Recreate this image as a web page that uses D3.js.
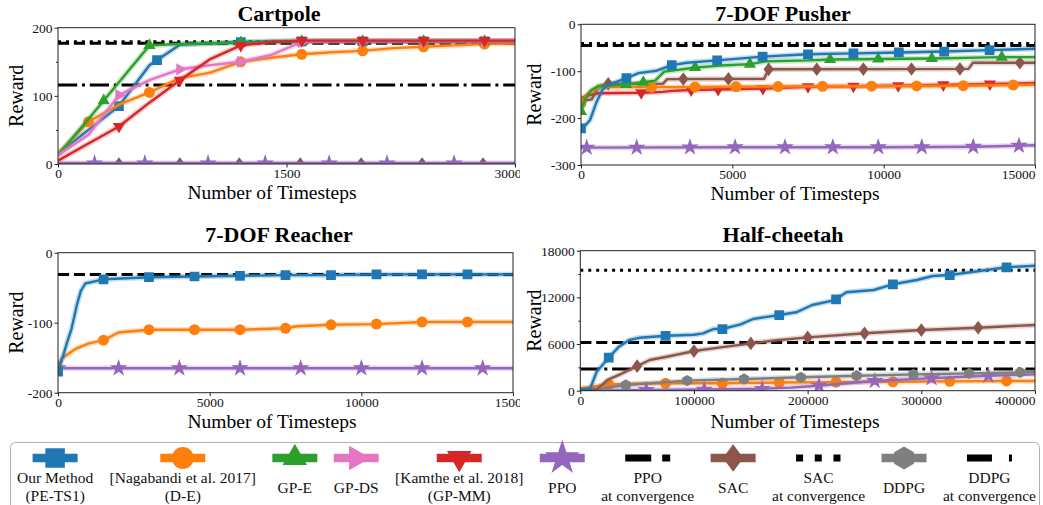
<!DOCTYPE html>
<html lang="en">
  <head>
    <title>Reward curves</title>
    <meta charset="UTF-8">
    <script src="https://d3js.org/d3.v7.min.js"></script>
    <style>
      * {
        margin: 0;
        padding: 0;
      }
      body {
        background: white;
      }
      svg {
        display: block;
        font-family: 'Liberation Serif', 'Times New Roman', serif;
      }
    </style>
  </head>
  <body>
    <script>
      // ---------- data ----------
      // Cartpole (all curves share one timestep grid)
      const cartpoleT    = [0, 200, 400, 600, 800, 1000, 1200, 1400, 1600, 1800, 2000, 2200, 2400, 2600, 2800, 3000]
      const cartpolePETS = [15, 50, 85, 145, 175, 177, 179, 180, 180, 180, 180, 180, 180, 180, 180, 180]
      const cartpoleDE   = [15, 62, 87, 105, 126, 134, 150, 156, 161, 164, 166, 170, 172, 174, 176, 177]
      const cartpoleGPE  = [13, 66, 120, 174, 176, 177, 178, 179, 180, 180, 180, 180, 180, 180, 180, 180]
      const cartpoleGPDS = [13, 43, 101, 123, 139, 145, 150, 160, 179, 180, 180, 180, 180, 180, 180, 180]
      const cartpoleGPMM = [5, 30, 55, 90, 123, 154, 174, 179, 181, 181, 181, 181, 181, 181, 181, 181]
      const cartpolePPO  = [1, 1, 1, 1, 1, 1, 1, 1, 1, 1, 1, 1, 1, 1, 1, 1]
      const cartpoleSAC  = [0, 0, 0, 0, 0, 0, 0, 0, 0, 0, 0, 0, 0, 0, 0, 0]
      const cartpoleConv = [177, 179.5, 116]   // PPO, SAC, DDPG at convergence

      // 7-DOF Pusher
      const pusherPETSt  = [0, 150, 300, 500, 700, 900, 1500, 1900, 2500, 3000, 3500, 4500, 6000, 7500, 9000, 10500, 12000, 13500, 15000]
      const pusherPETS   = [-222, -215, -204, -168, -140, -129, -115, -104, -99, -87, -82, -77, -69, -64, -62, -60, -58, -55, -52]
      const pusherDEt    = [0, 230, 450, 670, 2300, 5000, 9500, 12600, 15000]
      const pusherDE     = [-168, -147, -140, -134, -134, -133, -132, -131, -129]
      const pusherGPEt   = [0, 120, 340, 560, 1500, 2000, 2450, 2750, 3800, 4600, 5600, 6100, 7500, 8200, 9800, 11600, 13900, 15000]
      const pusherGPE    = [-186, -161, -140, -132, -128, -124, -120, -101, -92, -88, -85, -79, -77, -75, -74, -73, -70, -70]
      const pusherGPMMt  = [0, 200, 560, 2000, 2700, 3000, 3600, 6000, 7500, 10500, 13700, 15000]
      const pusherGPMM   = [-158, -152, -147, -146, -144, -142, -140, -137, -133, -131, -127, -125]
      const pusherPPOt   = [0, 5000, 10000, 13000, 15000]
      const pusherPPO    = [-263, -262, -262, -261, -258]
      const pusherSACt   = [0, 150, 350, 600, 900, 2700, 2850, 6050, 6200, 12800, 12950, 15000]
      const pusherSAC    = [-170, -162, -160, -132, -127, -127, -117, -116, -96, -95, -82, -82]
      const pusherConv   = [-45, -41]   // PPO, SAC at convergence

      // 7-DOF Reacher
      const reacherPETSt = [0, 150, 300, 450, 620, 750, 900, 1500, 3000, 4500, 6000, 7500, 9000, 10500, 12000, 13500, 15000]
      const reacherPETS  = [-170, -150, -128, -108, -75, -55, -44, -38, -35, -34, -33, -32, -32, -31, -31, -31, -31]
      const reacherDEt   = [0, 120, 600, 1000, 1500, 2000, 3000, 4500, 6000, 7500, 7900, 9000, 10500, 12000, 13500, 15000]
      const reacherDE    = [-165, -151, -137, -130, -125, -114, -110, -110, -110, -108, -105, -103, -102, -99, -99, -99]
      const reacherPPOt  = [0, 15000]
      const reacherPPO   = [-165, -165]
      const reacherConv  = [-31]   // PPO at convergence

      // Half-cheetah
      const cheetahPETSt = [0, 8500, 14400, 25000, 34000, 43000, 52000, 76000, 100000, 108000, 117000, 125000, 141000, 152000, 175000,
                            190000, 204000, 224000, 234000, 258000, 275000, 296000, 310000, 325000, 351000, 375000, 400000]
      const cheetahPETS  = [200, 200, 2440, 4240, 5660, 6520, 6800, 7070, 7200, 7370, 7930, 7930, 8530, 9220, 9730,
                            10080, 11020, 11650, 12650, 12950, 13680, 14230, 14750, 14870, 15390, 15870, 16070]
      const cheetahDEt   = [0, 10000, 25000, 50000, 75000, 125000, 175000, 225000, 275000, 325000, 375000, 400000]
      const cheetahDE    = [300, 500, 800, 900, 950, 950, 1050, 1100, 1150, 1200, 1250, 1250]
      const cheetahPPOt  = [0, 60000, 110000, 160000, 185000, 209000, 235000, 258000, 305000, 353000, 400000]
      const cheetahPPO   = [0, 100, 150, 250, 400, 640, 950, 1250, 1590, 1890, 2100]
      const cheetahSACt  = [0, 15000, 24000, 35000, 51000, 61000, 76000, 101500, 125000, 150800, 175000, 200600, 250500, 300300, 350100, 400000]
      const cheetahSAC   = [0, 200, 1380, 2110, 3220, 3950, 4370, 5140, 5600, 6090, 6520, 6860, 7380, 7800, 8100, 8450]
      const cheetahDDPGt = [0, 20000, 40000, 93600, 145000, 195000, 245000, 295000, 343000, 389000, 400000]
      const cheetahDDPG  = [0, 300, 730, 1290, 1500, 1720, 1930, 2100, 2230, 2360, 2400]
      const cheetahConv  = [6200, 15500, 2800]   // PPO, SAC, DDPG at convergence

      // timesteps where each curve carries a marker
      const marksCartpole = {
        pets: [400, 650, 1200, 1600, 2000, 2400, 2800],
        de:   [200, 600, 1200, 1600, 2000, 2400, 2800],
        gpe:  [300, 600, 1200, 1600, 2000, 2400, 2800],
        gpds: [400, 800, 1200, 1600, 2000, 2400, 2800],
        gpmm: [400, 800, 1200, 1600, 2000, 2400, 2800],
        ppo:  [240, 570, 985, 1360, 1780, 2160, 2600],
        sac:  [400, 800, 1190, 1590, 1990, 2390, 2790]
      }
      const marksPusher = {
        pets: [0, 1500, 3000, 4500, 6000, 7500, 9000, 10500, 12000, 13500],
        de:   [0, 2330, 3770, 5120, 6510, 7980, 9600, 11090, 12630, 14280],
        gpe:  [0, 1490, 2060, 3770, 5580, 8230, 9820, 11590, 13900],
        gpmm: [1990, 3640, 4530, 6010, 7500, 9000, 10480, 11970, 13510],
        ppo:  [190, 1840, 3600, 5090, 6740, 8320, 9820, 11260, 12960, 14470],
        sac:  [900, 3380, 4870, 6200, 7790, 9330, 10920, 12520, 14500]
      }
      const marksReacher = {
        pets: [0, 1500, 3000, 4500, 6000, 7500, 9000, 10500, 12000, 13500],
        de:   [0, 1500, 3000, 4500, 6000, 7500, 9000, 10500, 12000, 13500],
        ppo:  [0, 2000, 4000, 6000, 8000, 10000, 12000, 14000]
      }
      const marksCheetah = {
        pets: [25000, 75000, 125000, 175000, 225000, 275000, 325000, 375000],
        de:   [25000, 75000, 125000, 175000, 225000, 275000, 325000, 375000],
        ppo:  [58000, 109000, 160000, 210000, 259000, 309000, 359000],
        sac:  [50000, 100000, 150000, 200000, 250000, 300000, 350000],
        ddpg: [40000, 94000, 144000, 194000, 243000, 293000, 342000, 387000]
      }

      const legendLabels = [
        ["Our Method", "(PE-TS1)"], ["[Nagabandi et al. 2017]", "(D-E)"], ["GP-E"], ["GP-DS"],
        ["[Kamthe et al. 2018]", "(GP-MM)"], ["PPO"], ["PPO", "at convergence"], ["SAC"],
        ["SAC", "at convergence"], ["DDPG"], ["DDPG", "at convergence"]
      ]
      const legendKeys = ["pets", "de", "gpe", "gpds", "gpmm", "ppo", "ppoConv", "sac", "sacConv", "ddpg", "ddpgConv"]

      // ---------- styles ----------
      const colors = {
        pets: "#1f77b4", de: "#ff7f0e", gpe: "#2ca02c", gpds: "#e377c2",
        gpmm: "#d62728", ppo: "#9467bd", sac: "#8c564b", ddpg: "#7f7f7f"
      }
      const dashes = { ppoConv: "11.1 4.8", sacConv: "3 4.95", ddpgConv: "19.2 4.8 3 4.8" }
      const legendDashes = { ppoConv: "26 11", sacConv: "7 11.7", ddpgConv: "25 17 7 17" }

      const thinDiamond = {
        draw(ctx, size) {
          const h = Math.sqrt(size / 0.375) / 2, w = h * 0.75
          ctx.moveTo(0, -h); ctx.lineTo(w, 0); ctx.lineTo(0, h); ctx.lineTo(-w, 0); ctx.closePath()
        }
      }
      const hexagon = {
        draw(ctx, size) {
          const r = Math.sqrt(size / 2.598)
          for (let i = 0; i < 6; i++) {
            const a = Math.PI / 3 * i - Math.PI / 2
            if (i === 0) ctx.moveTo(r * Math.cos(a), r * Math.sin(a))
            else ctx.lineTo(r * Math.cos(a), r * Math.sin(a))
          }
          ctx.closePath()
        }
      }
      const symbols = {
        pets: { type: d3.symbolSquare, size: 95, rot: 0 },
        de:   { type: d3.symbolCircle, size: 95, rot: 0 },
        gpe:  { type: d3.symbolTriangle, size: 65, rot: 0 },
        gpds: { type: d3.symbolTriangle, size: 65, rot: 90 },
        gpmm: { type: d3.symbolTriangle, size: 65, rot: 180 },
        ppo:  { type: d3.symbolStar, size: 95, rot: 0 },
        sac:  { type: thinDiamond, size: 70, rot: 0 },
        ddpg: { type: hexagon, size: 85, rot: 0 }
      }

      const W = 1043, H = 505
      const svg = d3.select("body").append("svg").attr("width", W).attr("height", H)

      svg.append("clipPath").attr("id", "leftcol")
         .append("rect").attr("x", 0).attr("y", 0).attr("width", 520).attr("height", H)

      function drawPanel(p) {
        const root = svg.append("g")
        if (p.clip) root.attr("clip-path", "url(#leftcol)")

        const x = d3.scaleLinear().domain(p.xDomain).range([p.left, p.right])
        const y = d3.scaleLinear().domain(p.yDomain).range([p.bottom, p.top])

        const clipId = "plot" + p.id
        root.append("clipPath").attr("id", clipId)
            .append("rect").attr("x", p.left).attr("y", p.top)
            .attr("width", p.right - p.left).attr("height", p.bottom - p.top)
        const plot = root.append("g").attr("clip-path", `url(#${clipId})`)

        // horizontal "at convergence" references
        p.conv.forEach(c => {
          plot.append("line")
              .attr("x1", p.left).attr("x2", p.right)
              .attr("y1", y(c.value)).attr("y2", y(c.value))
              .attr("stroke", "#000").attr("stroke-width", 3)
              .attr("stroke-dasharray", dashes[c.key])
        })

        const line = d3.line().x(d => x(d[0])).y(d => y(d[1]))
        p.series.forEach(s => {
          const pts = s.t.map((t, i) => [t, s.v[i]])
          const col = colors[s.key]
          plot.append("path").datum(pts).attr("d", line)
              .attr("fill", "none").attr("stroke", col).attr("stroke-opacity", 0.25)
              .attr("stroke-width", 5.5).attr("stroke-linejoin", "round")
          plot.append("path").datum(pts).attr("d", line)
              .attr("fill", "none").attr("stroke", col)
              .attr("stroke-width", 2.4).attr("stroke-linejoin", "round")

          const along = d3.scaleLinear().domain(s.t).range(s.v)
          const sym = symbols[s.key]
          plot.append("g").selectAll("path")
              .data(s.marks).join("path")
              .attr("transform", t => `translate(${x(t)},${y(along(t))}) rotate(${sym.rot})`)
              .attr("d", d3.symbol().type(sym.type).size(sym.size))
              .attr("fill", col)
        })

        // frame
        root.append("rect")
            .attr("x", p.left).attr("y", p.top)
            .attr("width", p.right - p.left).attr("height", p.bottom - p.top)
            .attr("fill", "none").attr("stroke", "#222").attr("stroke-width", 1)

        const fmt = d => String(d)
        const xAxis = root.append("g")
            .attr("transform", `translate(0,${p.bottom})`)
            .call(d3.axisBottom(x).tickValues(p.xTicks).tickSize(3.5).tickPadding(1).tickFormat(fmt))
        const yAxis = root.append("g")
            .attr("transform", `translate(${p.left},0)`)
            .call(d3.axisLeft(y).tickValues(p.yTicks).tickSize(3.5).tickPadding(2).tickFormat(fmt))
        if (p.yMinor) {
          root.append("g")
              .attr("transform", `translate(${p.left},0)`)
              .call(d3.axisLeft(y).tickValues(p.yMinor).tickSize(2).tickFormat(""))
              .call(g => g.select(".domain").remove())
              .selectAll("line").attr("stroke", "#222")
        }
        ;[xAxis, yAxis].forEach(a => {
          a.select(".domain").remove()
          a.selectAll("line").attr("stroke", "#222")
          a.selectAll("text").attr("font-size", 13.5).attr("fill", "#111")
           .attr("font-family", "'Liberation Serif', serif")
        })
        // the last x label sits against the right edge of the crop
        xAxis.selectAll(".tick").filter(d => d === p.xDomain[1]).select("text")
             .attr("text-anchor", "end").attr("x", p.lastTickShift)

        root.append("text")
            .attr("x", p.titleX).attr("y", p.titleY)
            .attr("text-anchor", "middle").attr("font-size", 22).attr("font-weight", "bold")
            .text(p.title)
        root.append("text")
            .attr("x", p.xLabelX).attr("y", p.xLabelY)
            .attr("text-anchor", "middle").attr("font-size", 19.5)
            .text("Number of Timesteps")
        root.append("text")
            .attr("transform", `translate(${p.yLabelX},${(p.top + p.bottom) / 2}) rotate(-90)`)
            .attr("text-anchor", "middle").attr("dominant-baseline", "central").attr("font-size", 20)
            .text("Reward")
      }

      const cp = (key, v) => ({ key, t: cartpoleT, v, marks: marksCartpole[key] })

      drawPanel({
        id: "cartpole", clip: true, title: "Cartpole",
        left: 58, right: 515, top: 27.7, bottom: 164,
        xDomain: [0, 3000], yDomain: [0, 200],
        xTicks: [0, 1500, 3000], yTicks: [0, 100, 200], yMinor: [50, 150], lastTickShift: 6,
        titleX: 279, titleY: 20.5, xLabelX: 272, xLabelY: 199, yLabelX: 16,
        conv: [{ key: "ddpgConv", value: cartpoleConv[2] }, { key: "ppoConv", value: cartpoleConv[0] },
               { key: "sacConv", value: cartpoleConv[1] }],
        series: [cp("sac", cartpoleSAC), cp("ppo", cartpolePPO), cp("pets", cartpolePETS), cp("de", cartpoleDE),
                 cp("gpe", cartpoleGPE), cp("gpds", cartpoleGPDS), cp("gpmm", cartpoleGPMM)]
      })

      drawPanel({
        id: "pusher", clip: false, title: "7-DOF Pusher",
        left: 581, right: 1035, top: 24.3, bottom: 165,
        xDomain: [0, 15000], yDomain: [-300, 0],
        xTicks: [0, 5000, 10000, 15000], yTicks: [-300, -200, -100, 0], lastTickShift: 0,
        titleX: 783, titleY: 20.5, xLabelX: 795, xLabelY: 200, yLabelX: 534,
        conv: [{ key: "ppoConv", value: pusherConv[0] }, { key: "sacConv", value: pusherConv[1] }],
        series: [
          { key: "ppo", t: pusherPPOt, v: pusherPPO, marks: marksPusher.ppo },
          { key: "gpmm", t: pusherGPMMt, v: pusherGPMM, marks: marksPusher.gpmm },
          { key: "sac", t: pusherSACt, v: pusherSAC, marks: marksPusher.sac },
          { key: "de", t: pusherDEt, v: pusherDE, marks: marksPusher.de },
          { key: "gpe", t: pusherGPEt, v: pusherGPE, marks: marksPusher.gpe },
          { key: "pets", t: pusherPETSt, v: pusherPETS, marks: marksPusher.pets }
        ]
      })

      drawPanel({
        id: "reacher", clip: true, title: "7-DOF Reacher",
        left: 58, right: 513, top: 252.7, bottom: 392.7,
        xDomain: [0, 15000], yDomain: [-200, 0],
        xTicks: [0, 5000, 10000, 15000], yTicks: [-200, -100, 0], lastTickShift: 15,
        titleX: 279, titleY: 241.5, xLabelX: 272, xLabelY: 428, yLabelX: 16,
        conv: [{ key: "ppoConv", value: reacherConv[0] }],
        series: [
          { key: "ppo", t: reacherPPOt, v: reacherPPO, marks: marksReacher.ppo },
          { key: "de", t: reacherDEt, v: reacherDE, marks: marksReacher.de },
          { key: "pets", t: reacherPETSt, v: reacherPETS, marks: marksReacher.pets }
        ]
      })

      drawPanel({
        id: "cheetah", clip: false, title: "Half-cheetah",
        left: 580.3, right: 1035, top: 250.7, bottom: 390.7,
        xDomain: [0, 400000], yDomain: [0, 18000],
        xTicks: [0, 100000, 200000, 300000, 400000], yTicks: [0, 6000, 12000, 18000], yMinor: [3000, 9000, 15000],
        lastTickShift: 0,
        titleX: 783, titleY: 241.5, xLabelX: 795, xLabelY: 428, yLabelX: 534,
        conv: [{ key: "ddpgConv", value: cheetahConv[2] }, { key: "ppoConv", value: cheetahConv[0] },
               { key: "sacConv", value: cheetahConv[1] }],
        series: [
          { key: "de", t: cheetahDEt, v: cheetahDE, marks: marksCheetah.de },
          { key: "ppo", t: cheetahPPOt, v: cheetahPPO, marks: marksCheetah.ppo },
          { key: "ddpg", t: cheetahDDPGt, v: cheetahDDPG, marks: marksCheetah.ddpg },
          { key: "sac", t: cheetahSACt, v: cheetahSAC, marks: marksCheetah.sac },
          { key: "pets", t: cheetahPETSt, v: cheetahPETS, marks: marksCheetah.pets }
        ]
      })

      // ---------- legend ----------
      const legend = svg.append("g")
      legend.append("rect")
            .attr("x", 10.5).attr("y", 442.5).attr("width", 1029).attr("height", 80)
            .attr("rx", 5).attr("fill", "white").attr("stroke", "#b0b0b0").attr("stroke-width", 1)

      const handleW = 45, handleY = 458
      const legendStart = 17, legendEnd = 1036
      const items = legendLabels.map((lines, i) => {
        const item = legend.append("g")
        const texts = lines.map((s, j) => item.append("text")
            .attr("text-anchor", "middle").attr("font-size", 15.5).attr("fill", "#111")
            .attr("y", lines.length === 1 ? 493 : (j === 0 ? 482.5 : 500.5))
            .text(s))
        const tw = d3.max(texts, t => t.node().getComputedTextLength())
        return { key: legendKeys[i], item, texts, colW: Math.max(handleW, tw) }
      })
      const gap = (legendEnd - legendStart - d3.sum(items, d => d.colW)) / (items.length - 1)
      let cursor = legendStart
      items.forEach(({ key, item, texts, colW }) => {
        const cx = cursor + colW / 2
        texts.forEach(t => t.attr("x", cx))
        cursor += colW + gap

        if (legendDashes[key]) {
          item.append("line")
              .attr("x1", cx - handleW / 2).attr("x2", cx + handleW / 2)
              .attr("y1", handleY).attr("y2", handleY)
              .attr("stroke", "#000").attr("stroke-width", 7)
              .attr("stroke-dasharray", legendDashes[key])
        } else {
          const sym = symbols[key]
          item.append("line")
              .attr("x1", cx - handleW / 2).attr("x2", cx + handleW / 2)
              .attr("y1", handleY).attr("y2", handleY)
              .attr("stroke", colors[key]).attr("stroke-width", 8.5)
          item.append("path")
              .attr("transform", `translate(${cx},${handleY}) rotate(${sym.rot})`)
              .attr("d", d3.symbol().type(sym.type).size(sym.size * 4))
              .attr("fill", colors[key])
        }
      })
    </script>
  </body>
</html>
